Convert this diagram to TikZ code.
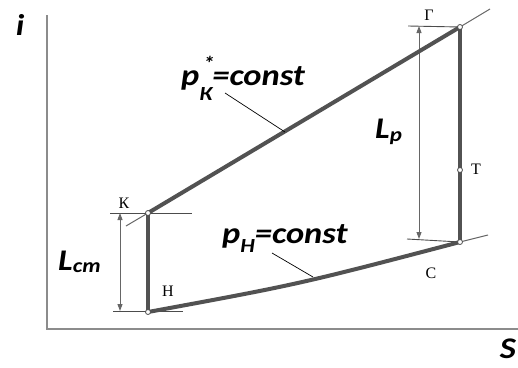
\documentclass[tikz,border=0pt]{standalone}
\usepackage{fontspec}
\setmainfont{Liberation Serif}
\newfontfamily\labelfont{Carlito}
\usepackage{tikz}
\usetikzlibrary{arrows.meta, positioning}

% lowered index and raised mark for the big labels
\newcommand{\lowidx}[2][0.3em]{\raisebox{-#1}{\fontsize{20}{20}\selectfont #2}}
\newcommand{\stackidx}[2]{\rlap{\raisebox{0.5em}{\fontsize{20}{20}\selectfont\,#1}}\lowidx[0.5em]{#2}}

\begin{document}
\begin{tikzpicture}[
    x=1pt, y=-1pt,
    axis/.style={draw=gray!90, line width=1.8pt},
    process/.style={draw=black!68, line width=4pt},
    isobar/.style={draw=black!60, line width=1pt},
    refline/.style={draw=black!70, line width=0.9pt},
    dimline/.style={draw=black!60, line width=0.9pt, {Triangle[length=7pt,width=5pt]}-{Triangle[length=7pt,width=5pt]}},
    leader/.style={draw=black, line width=0.7pt},
    pt/.style={circle, draw=black!70, fill=white, line width=0.8pt, inner sep=0pt, minimum size=5pt},
    ptlabel/.style={font=\fontsize{16}{16}\selectfont, inner sep=0pt},
    biglabel/.style={font=\labelfont\fontsize{30}{31}\selectfont\bfseries\itshape, inner sep=0pt, anchor=base west}
]
\useasboundingbox (0,0) rectangle (518,367);

% Axes
\coordinate (o) at (47,329);
\coordinate (itop) at (47,15);
\coordinate (send) at (518,329);
\draw[axis] (itop) -- (o) -- (send);
\node[biglabel, anchor=center] (ilab) at (20,25) {\scalebox{1.15}[1]{i}};
\node[biglabel, anchor=center] (slab) at (508,349) {\scalebox{1.15}[1]{S}};

% State points
\coordinate (K) at (148,213);
\coordinate (H) at (148,312);
\coordinate (G) at (460,27);
\coordinate (T) at (460,170);
\coordinate (C) at (460,242);

% Isobars extended past the points
\coordinate (kext) at (126,226);
\coordinate (gext) at (490,9);
\coordinate (cext) at (488,235);
\draw[isobar] (kext) -- (K);
\draw[isobar] (G) -- (gext);
\draw[isobar] (C) -- (cext);

% Reference lines
\draw[refline] (110,213) -- (192,213);
\draw[refline] (113,311) -- (183,311);
\draw[refline] (408,26) -- (G);
\draw[refline] (407,239) -- (C);

% Dimensions
\coordinate (lcmtop) at (120,213);
\coordinate (lcmbot) at (120,311);
\coordinate (lptop) at (419,26);
\coordinate (lpbot) at (419,239);
\draw[dimline] (lcmtop) -- (lcmbot);
\draw[dimline] (lptop) -- (lpbot);

% Cycle
\draw[process] (K) -- (G);
\draw[process] (G) -- (C);
\draw[process] (K) -- (H);
\draw[process] (H) .. controls (300,284) .. (C);

\node[pt] (k) at (K) {};
\node[pt] (h) at (H) {};
\node[pt] (g) at (G) {};
\node[pt] (t) at (T) {};
\node[pt] (c) at (C) {};

\node[ptlabel] (klab) at (124,203) {К};
\node[ptlabel] (hlab) at (168,291) {Н};
\node[ptlabel] (glab) at (429,15) {Г};
\node[ptlabel] (tlab) at (476,169) {Т};
\node[ptlabel] (clab) at (431,273) {С};

% Labels
\node[biglabel] (pk) at (181,85) {\scalebox{1.15}[1]{p\stackidx{*}{К}=const}};
\node[biglabel] (ph) at (222,243) {\scalebox{1.15}[1]{p\lowidx{Н}=const}};
\node[biglabel] (lcm) at (58,270) {\scalebox{1.15}[1]{L\lowidx[0.08em]{ст}}};
\node[biglabel] (lp) at (375,138) {\scalebox{1.15}[1]{L\lowidx[0.1em]{р}}};

\coordinate (pkend) at (285,132);
\coordinate (phend) at (313,277);
\draw[leader] (225,93) -- (pkend);
\draw[leader] (272,253) -- (phend);

\end{tikzpicture}
\end{document}
